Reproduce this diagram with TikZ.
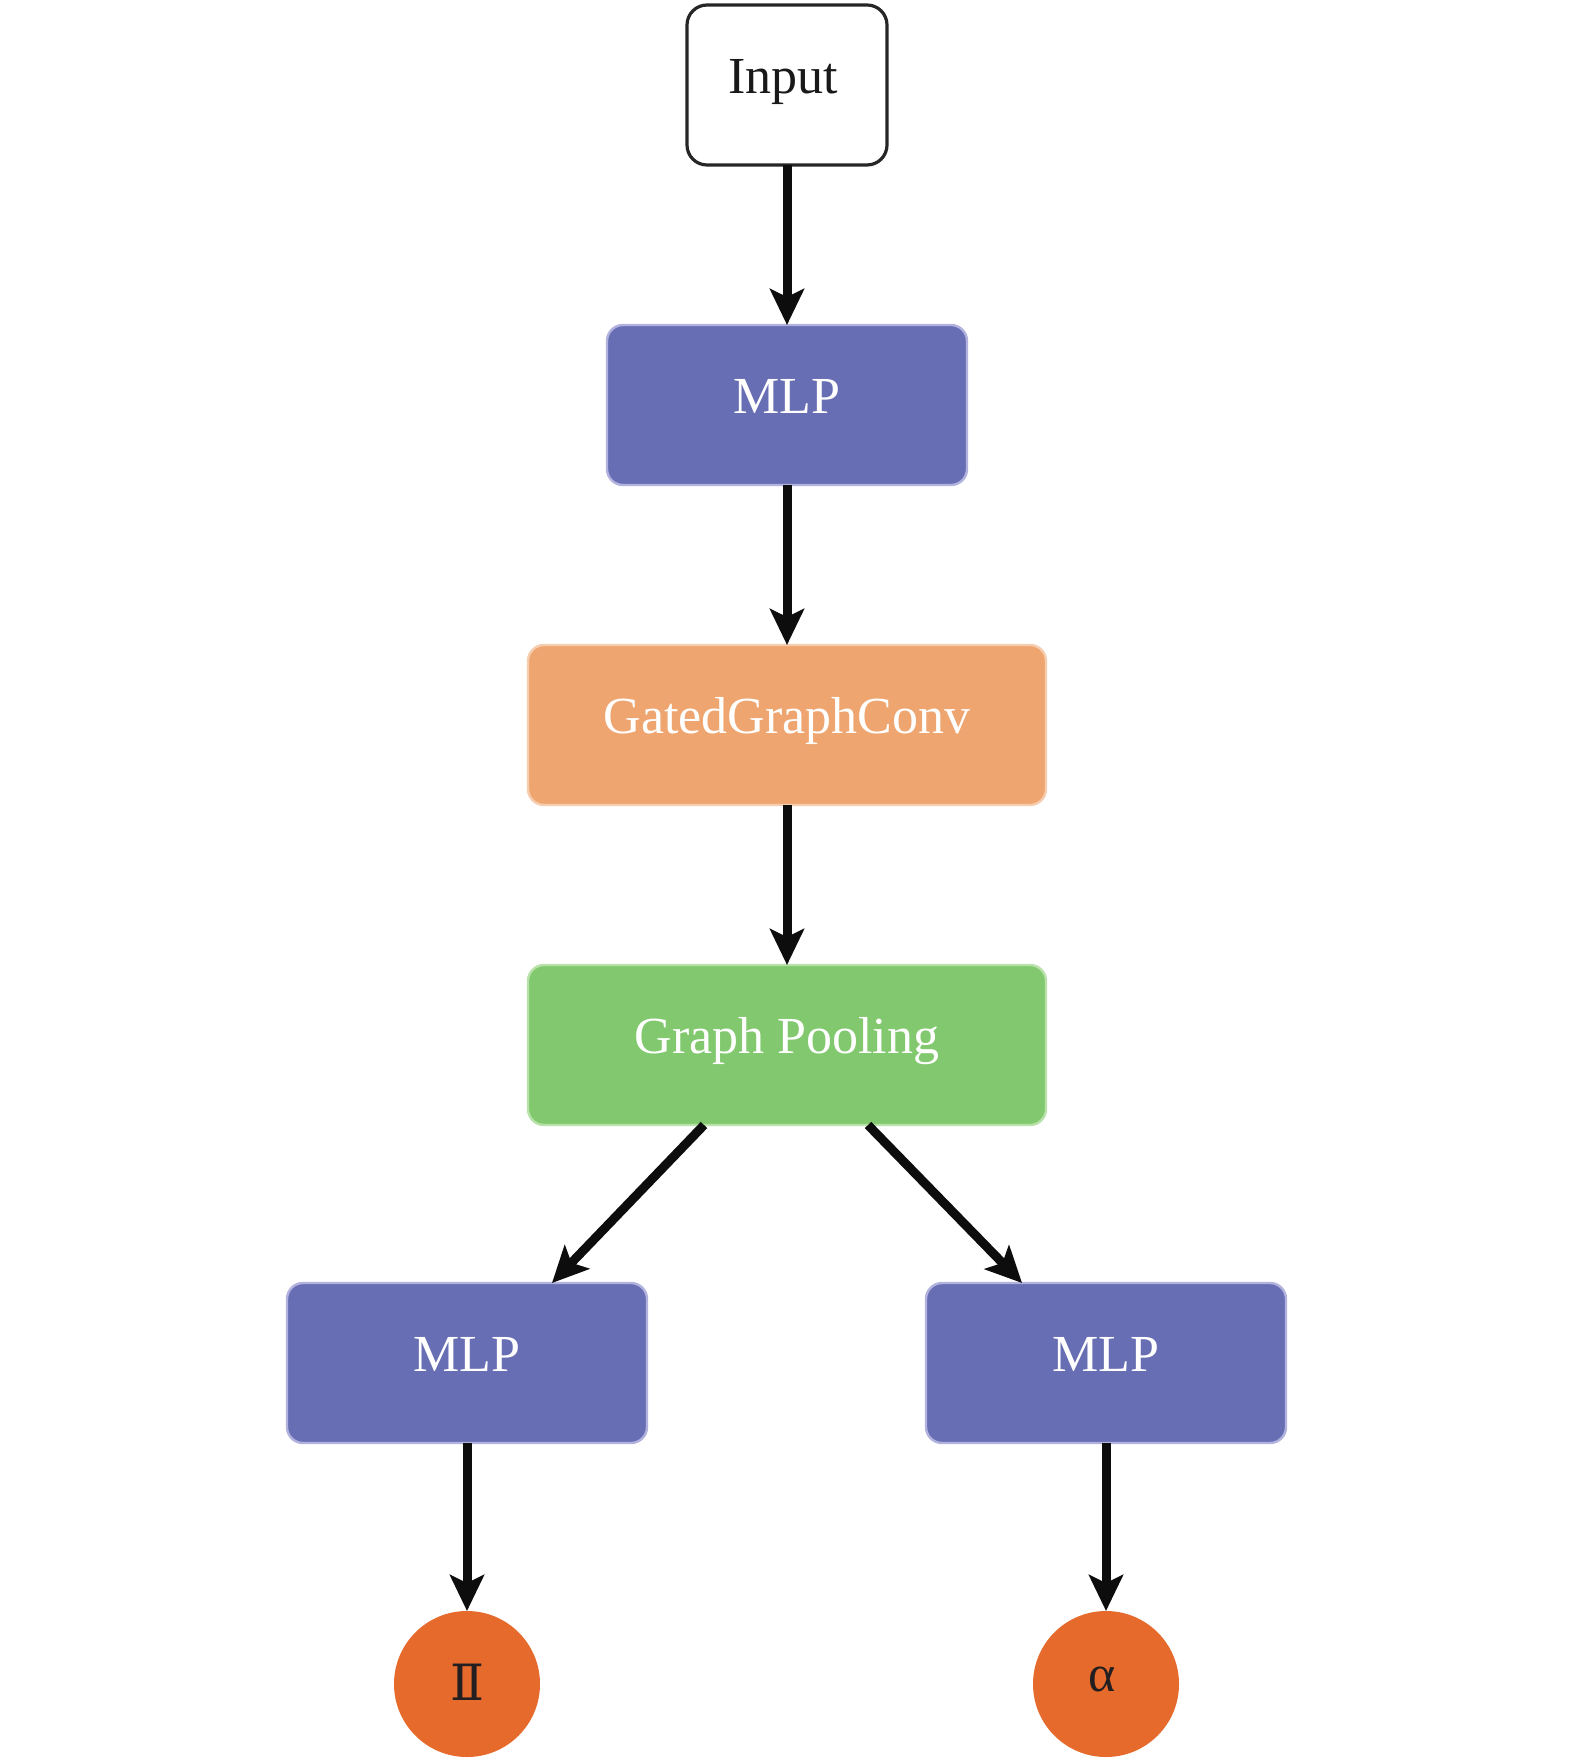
\documentclass[tikz,border=0pt]{standalone}
\usepackage{fontspec}
\setmainfont{Liberation Serif}
\newfontfamily\romnum{DejaVu Serif}
\usetikzlibrary{arrows.meta,calc}
\definecolor{mlpblue}{RGB}{104,110,180}
\definecolor{mlpedge}{RGB}{178,178,222}
\definecolor{ggcorange}{RGB}{238,165,112}
\definecolor{ggcedge}{RGB}{246,205,175}
\definecolor{gpgreen}{RGB}{130,200,110}
\definecolor{gpedge}{RGB}{185,225,170}
\definecolor{circorange}{RGB}{229,106,44}
\definecolor{darktext}{RGB}{35,31,32}
\begin{document}
\begin{tikzpicture}[x=0.5pt,y=-0.5pt,
  every node/.style={outer sep=0pt, font=\fontsize{26}{30}\selectfont},
  boxbase/.style={rounded corners=8pt, minimum height=80pt, text height=17.5pt, text depth=9pt, line width=1.2pt},
  inbox/.style={boxbase, draw=black!85, line width=1.6pt, fill=white, rounded corners=10pt, minimum width=100pt, text=black!90},
  mlpbox/.style={boxbase, fill=mlpblue, draw=mlpedge, minimum width=180pt, text=white},
  ggcbox/.style={boxbase, fill=ggcorange, draw=ggcedge, minimum width=259pt, text=white},
  gpbox/.style={boxbase, fill=gpgreen, draw=gpedge, minimum width=259pt, text=white},
  outcirc/.style={circle, fill=circorange, minimum size=73pt, inner sep=0pt, text=darktext},
  arr/.style={line width=4.5pt, draw=black!95, -{Stealth[length=18pt,width=17pt,inset=4pt]}}
]
\useasboundingbox (0,0) rectangle (1575,1764);
\node[inbox] (in) at (787,85) {\hspace*{-4pt}Input};
\node[mlpbox] (m1) at (787,405) {MLP};
\node[ggcbox] (ggc) at (787,725) {GatedGraphConv};
\node[gpbox] (gp) at (787,1045) {Graph Pooling};
\node[mlpbox] (ml) at (467,1363) {MLP};
\node[mlpbox] (mr) at (1106,1363) {MLP};
\node[outcirc] (c1) at (467,1684) {\raisebox{2pt}{\romnum\fontsize{25}{30}\selectfont Ⅱ}};
\node[outcirc] (c2) at (1106,1684) {\hspace*{-4pt}\raisebox{5pt}{α}};
\coordinate (gpl) at ($(gp.south)+(-83,0)$);
\coordinate (gpr) at ($(gp.south)+(81,0)$);
\coordinate (mlt) at ($(ml.north)+(85,0)$);
\coordinate (mrt) at ($(mr.north)+(-84,0)$);
\draw[arr] (in.south) -- (m1.north);
\draw[arr] (m1.south) -- (ggc.north);
\draw[arr] (ggc.south) -- (gp.north);
\draw[arr] (gpl) -- (mlt);
\draw[arr] (gpr) -- (mrt);
\draw[arr] (ml.south) -- (c1.north);
\draw[arr] (mr.south) -- (c2.north);
\end{tikzpicture}
\end{document}
